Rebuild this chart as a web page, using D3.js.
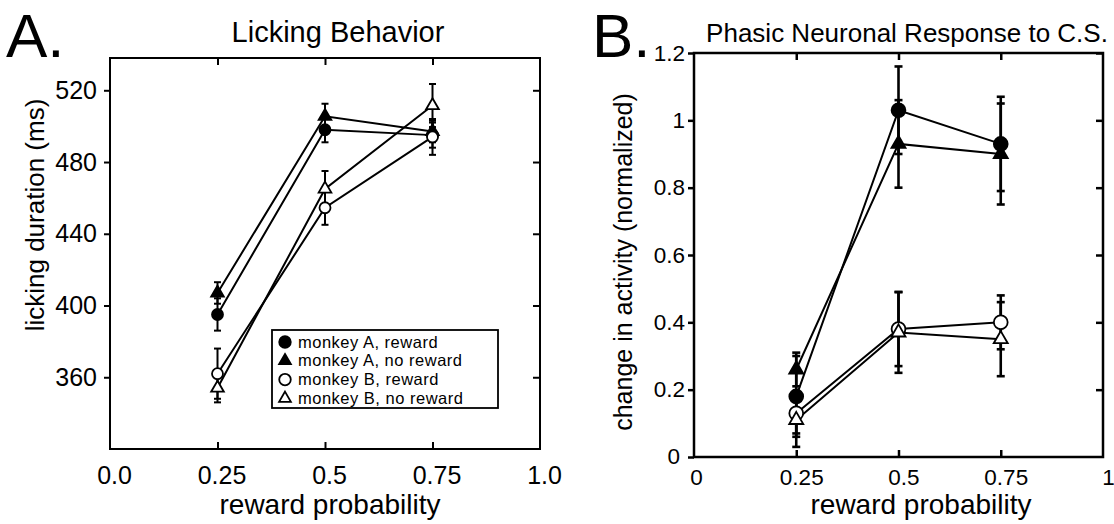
<!DOCTYPE html>
<html>
<head>
<meta charset="utf-8">
<script src="https://cdn.jsdelivr.net/npm/d3@7"></script>
<style>
  body { margin: 0; background: #fff; }
  svg { display: block; font-family: "Liberation Sans", Arial, Helvetica, sans-serif; }
  .axis path.domain { display: none; }
  .axis line { stroke: #000; }
  .axis text { fill: #000; }
</style>
</head>
<body>
<svg id="fig" width="1114" height="524"></svg>
<script>
'use strict';

// reward probabilities shared by both panels
const probs = [0.25, 0.5, 0.75];
const seriesNames = ["monkey A, reward", "monkey A, no reward", "monkey B, reward", "monkey B, no reward"];

// panel A: licking duration (ms), mean and error
const lickARew = [395, 498, 495];
const lickARewErr = [9, 7, 7];
const lickANo = [407, 505.5, 497];
const lickANoErr = [6, 7, 6];
const lickBRew = [362, 454.5, 494];
const lickBRewErr = [14, 9.5, 10];
const lickBNo = [354, 465, 511.5];
const lickBNoErr = [8, 10, 12];

// panel B: normalized change in activity
const actARew = [0.18, 1.03, 0.93];
const actARewErr = [0.12, 0.13, 0.14];
const actANo = [0.26, 0.93, 0.90];
const actANoErr = [0.05, 0.13, 0.15];
const actBRew = [0.13, 0.38, 0.40];
const actBRewErr = [0.06, 0.11, 0.08];
const actBNo = [0.11, 0.37, 0.35];
const actBNoErr = [0.08, 0.12, 0.11];

// ticks
const xTicks = [0, 0.25, 0.5, 0.75, 1];
const xLabelsA = ["0.0", "0.25", "0.5", "0.75", "1.0"];
const xLabelsB = ["0", "0.25", "0.5", "0.75", "1"];
const yTicksA = [360, 400, 440, 480, 520];
const yTicksB = [0, 0.2, 0.4, 0.6, 0.8, 1, 1.2];
const yLabelsB = ["0", "0.2", "0.4", "0.6", "0.8", "1", "1.2"];

// marker style per series: filled/open, circle/triangle
const markerFill = ["#000", "#000", "#fff", "#fff"];
const markerShape = [d3.symbolCircle, d3.symbolTriangle, d3.symbolCircle, d3.symbolTriangle];

const svg = d3.select("#fig");

function drawPanel(opt) {
  var x = d3.scaleLinear().domain([0, 1]).range([opt.left, opt.right]);
  var y = d3.scaleLinear().domain(opt.yDomain).range([opt.bottom, opt.top]);
  var g = svg.append("g");

  // frame
  g.append("rect")
    .attr("x", opt.left).attr("y", opt.top)
    .attr("width", opt.right - opt.left).attr("height", opt.bottom - opt.top)
    .attr("fill", "none").attr("stroke", "#000").attr("stroke-width", opt.frameW);

  // axes: left ticks outward, the rest inward
  var inner = xTicks.filter(function (d) { return d > 0 && d < 1; });
  g.append("g").attr("class", "axis")
    .attr("transform", "translate(0," + opt.top + ")")
    .call(d3.axisTop(x).tickValues(inner).tickSize(-7).tickFormat(""))
    .selectAll("line").attr("stroke-width", opt.frameW);
  var bx = g.append("g").attr("class", "axis")
    .attr("transform", "translate(0," + opt.bottom + ")")
    .call(d3.axisBottom(x).tickValues(xTicks).tickSize(-7).tickPadding(opt.xPad)
      .tickFormat(function (d, i) { return opt.xLabels[i]; }));
  bx.selectAll("line").attr("stroke-width", opt.frameW)
    .attr("display", function (d) { return (d > 0 && d < 1) ? null : "none"; });
  bx.selectAll("text").attr("font-size", opt.tickFont).attr("dx", opt.xDx);

  var ly = g.append("g").attr("class", "axis")
    .attr("transform", "translate(" + opt.left + ",0)")
    .call(d3.axisLeft(y).tickValues(opt.yTicks).tickSize(6).tickPadding(opt.yPad)
      .tickFormat(function (d, i) { return opt.yLabels ? opt.yLabels[i] : d; }));
  ly.selectAll("line").attr("stroke-width", opt.frameW);
  ly.selectAll("text").attr("font-size", opt.tickFont);
  g.append("g").attr("class", "axis")
    .attr("transform", "translate(" + opt.right + ",0)")
    .call(d3.axisRight(y).tickValues(opt.yTicks.filter(function (d) { return d > opt.yDomain[0]; }))
      .tickSize(-7).tickFormat(""))
    .selectAll("line").attr("stroke-width", opt.frameW);

  if (opt.zeroShift) {
    ly.selectAll(".tick text").filter(function (d) { return d === 0; })
      .attr("dx", opt.zeroShift[0]).attr("dy", opt.zeroShift[1]);
    bx.selectAll(".tick text").filter(function (d) { return d === 0; }).attr("dx", 2);
  }

  // series lines
  var line = d3.line()
    .x(function (d, i) { return x(probs[i]); })
    .y(function (d) { return y(d); });
  opt.means.forEach(function (m) {
    g.append("path").attr("d", line(m))
      .attr("fill", "none").attr("stroke", "#000").attr("stroke-width", opt.lineW);
  });

  // error bars
  opt.means.forEach(function (m, s) {
    var e = opt.errs[s];
    m.forEach(function (v, i) {
      var cx = x(probs[i]);
      var eb = g.append("g").attr("stroke", "#000").attr("stroke-width", opt.errW);
      eb.append("line").attr("x1", cx).attr("x2", cx).attr("y1", y(v - e[i])).attr("y2", y(v + e[i]));
      [v - e[i], v + e[i]].forEach(function (c) {
        eb.append("line").attr("x1", cx - opt.cap).attr("x2", cx + opt.cap)
          .attr("y1", y(c)).attr("y2", y(c));
      });
    });
  });

  // markers
  opt.means.forEach(function (m, s) {
    var sym = d3.symbol().type(markerShape[s])
      .size(markerShape[s] === d3.symbolCircle ? opt.circleSize : opt.triSize);
    m.forEach(function (v, i) {
      g.append("path").attr("d", sym())
        .attr("transform", "translate(" + x(probs[i]) + "," + y(v) + ")")
        .attr("fill", markerFill[s]).attr("stroke", "#000").attr("stroke-width", 1.8);
    });
  });

  // texts
  g.append("text").attr("x", opt.titleX).attr("y", 42).attr("text-anchor", "middle")
    .attr("font-size", opt.titleFont).text(opt.title);
  g.append("text").attr("x", opt.letterX).attr("y", 57).attr("font-size", 62).text(opt.letter);
  g.append("text").attr("x", opt.xLabelX).attr("y", 514).attr("text-anchor", "middle")
    .attr("font-size", opt.labelFont).text("reward probability");
  g.append("text")
    .attr("transform", "translate(" + opt.yLabelPos[0] + "," + opt.yLabelPos[1] + ") rotate(-90)")
    .attr("text-anchor", "middle").attr("font-size", opt.yLabelFont).text(opt.yLabel);

  return { g: g, x: x, y: y };
}

// panel A
var pA = drawPanel({
  left: 110, right: 540, top: 58, bottom: 449, yDomain: [320, 538],
  yTicks: yTicksA, xLabels: xLabelsA, frameW: 2, tickFont: 25, xPad: 17, xDx: 4, yPad: 7,
  lineW: 2, errW: 2, cap: 3.5, circleSize: 95, triSize: 70,
  means: [lickARew, lickANo, lickBRew, lickBNo],
  errs: [lickARewErr, lickANoErr, lickBRewErr, lickBNoErr],
  title: "Licking Behavior", titleX: 338, titleFont: 29,
  letter: "A.", letterX: 6, xLabelX: 330, labelFont: 28,
  yLabel: "licking duration (ms)", yLabelPos: [44, 215], yLabelFont: 26
});

// legend inside panel A (tight line spacing like the original)
var leg = pA.g.append("g");
leg.append("rect").attr("x", 272).attr("y", 330).attr("width", 226).attr("height", 78)
  .attr("fill", "#fff").attr("stroke", "#000").attr("stroke-width", 1.8);
seriesNames.forEach(function (name, s) {
  var by = 347.5 + s * 18.8;
  var sym = d3.symbol().type(markerShape[s]).size(markerShape[s] === d3.symbolCircle ? 105 : 60);
  leg.append("path").attr("d", sym())
    .attr("transform", "translate(285," + (by - 5.5) + ")")
    .attr("fill", markerFill[s]).attr("stroke", "#000").attr("stroke-width", 1.8);
  leg.append("text").attr("x", 298).attr("y", by).attr("font-size", 16.5)
    .attr("letter-spacing", 0.5).text(name);
});

// panel B
drawPanel({
  left: 694, right: 1103, top: 53, bottom: 457, yDomain: [0, 1.2],
  yTicks: yTicksB, yLabels: yLabelsB, xLabels: xLabelsB, frameW: 2.5, tickFont: 22.5, xPad: 12, xDx: 5, yPad: 3,
  zeroShift: [-5, 6],
  lineW: 2, errW: 2.6, cap: 4, circleSize: 150, triSize: 85,
  means: [actARew, actANo, actBRew, actBNo],
  errs: [actARewErr, actANoErr, actBRewErr, actBNoErr],
  title: "Phasic Neuronal Response to C.S.", titleX: 907, titleFont: 26,
  letter: "B.", letterX: 592, xLabelX: 921, labelFont: 28,
  yLabel: "change in activity (normalized)", yLabelPos: [632, 262], yLabelFont: 25
});
</script>
</body>
</html>
